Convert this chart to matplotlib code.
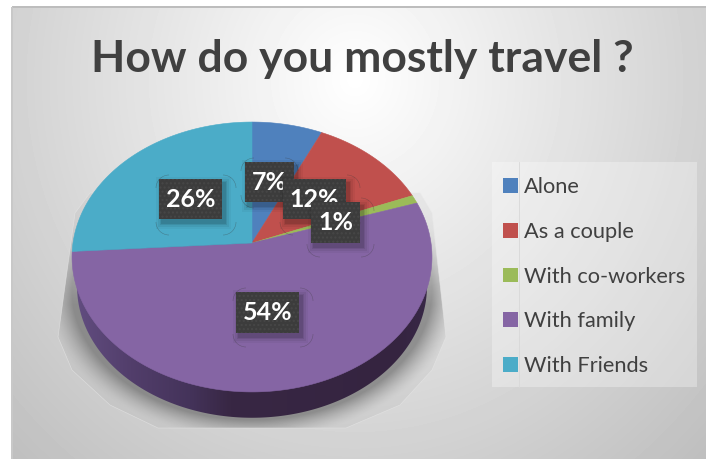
import numpy as np
import matplotlib
matplotlib.use("Agg")
import matplotlib.pyplot as plt
from matplotlib.patches import Polygon, Rectangle, Arc
from matplotlib.lines import Line2D

title = "How do you mostly travel ?"
categories = ["Alone", "As a couple", "With co-workers", "With family", "With Friends"]
values = [7, 12, 1, 54, 26]
colors = ["#4f81bd", "#c0504d", "#9bbb59", "#8565a4", "#4bacc8"]

# layout, in figure pixels (same order as the categories)
W, H = 706, 459
label_boxes = [(245, 162, 49, 40), (283, 179, 63, 40), (311, 202, 49, 41), (236, 292, 63, 41), (159, 179, 63, 40)]
callouts = [(241, 158, 57, 50), (280, 175, 80, 60), (307, 198, 67, 59), (233, 288, 80, 59), (156, 175, 80, 60)]
draw_order = [3, 4, 0, 1, 2]

CX, CY, A, B, K = 252.0, 243.0, 133.5, 179.0, 0.1036


def project(theta, scale=1.0, dy=0.0):
    x, y = np.sin(theta), np.cos(theta)
    w = 1 + K * y
    return CX + scale * B * x / w, CY + dy - scale * A * y / w


plt.rcParams["font.family"] = ["Lato", "DejaVu Sans"]
fig = plt.figure(figsize=(W / 100, H / 100), dpi=100, facecolor="white")
ax = fig.add_axes([0, 0, 1, 1])
ax.set_xlim(0, W)
ax.set_ylim(H, 0)
ax.axis("off")

# chart-area gradient
xx, yy = np.meshgrid(np.arange(12, W) + .5, np.arange(7, H) + .5)
r = np.sqrt(((xx - 355) / 345) ** 2 + ((yy - 80) / 370) ** 2)
bg = np.clip(255 - 45 * r, 185, 255)
ax.imshow(bg, cmap="gray", vmin=0, vmax=255, extent=(12, W, H, 7), aspect="auto", zorder=0, interpolation="bilinear")
ax.add_patch(Rectangle((12, 6), W - 12, 1.6, fc="#bdbdbd", ec="none", zorder=1))
ax.add_patch(Rectangle((11.4, 7), 1.2, H - 7, fc="#c8c8c8", ec="none", zorder=1))

# soft shadow under the pie, limited to a faceted outline
hull = [(90, 193), (75, 213), (58, 337), (72, 370), (110, 405), (158, 428), (346, 428), (400, 405),
        (432, 370), (446, 337), (432, 213), (420, 193)]
d = np.sqrt(((xx - 252) / 180) ** 2 + ((yy - 290) / 130) ** 2)
fall = np.clip((1.15 - d) / .15, 0, 1) ** 1.5
fade = np.clip((yy - 215) / 90, 0, 1)
sh = np.zeros(xx.shape + (4,))
sh[..., :3] = .42
sh[..., 3] = (.07 + .62 * fall * fade)
im = ax.imshow(sh, extent=(12, W, H, 7), aspect="auto", zorder=2, interpolation="bilinear")
hp = Polygon(hull, closed=True, fc="none", ec="#e8e8e8", lw=.5, alpha=.6, zorder=2.1)
ax.add_patch(hp)
im.set_clip_path(hp)

# pie side wall with horizontal gradient
ax.set_xlim(0, W)
ax.set_ylim(H, 0)
t_low = np.linspace(np.pi * 1.5, np.pi * .5, 200)
lx, ly = project(t_low, .972, 30)
tl = project(np.array([np.pi * 1.5 + .12]))
tr = project(np.array([np.pi * .5 - .12]))
wall = np.column_stack([np.r_[tl[0], lx, tr[0]], np.r_[tl[1], ly, tr[1]]])
wp = Polygon(wall, closed=True, fc="none", ec="none", zorder=3)
ax.add_patch(wp)
gx = np.linspace(60, 445, 256)
stops_x = [70, 130, 190, 230, 400, 440]
stops = np.array([[0x63, 0x4e, 0x82], [0x52, 0x3e, 0x6b], [0x44, 0x33, 0x5a], [0x38, 0x27, 0x44],
                  [0x35, 0x24, 0x40], [0x3a, 0x2a, 0x4a]]) / 255
grad = np.stack([np.interp(gx, stops_x, stops[:, i]) for i in range(3)], axis=1)[None, :, :]
gi = ax.imshow(grad, extent=(60, 445, 425, 240), aspect="auto", zorder=3, interpolation="bilinear")
gi.set_clip_path(wp)
ax.set_xlim(0, W)
ax.set_ylim(H, 0)

# pie top face
cum = np.cumsum([0] + values) / sum(values) * 2 * np.pi
for i, c in enumerate(colors):
    t = np.linspace(cum[i], cum[i + 1], max(3, int(values[i] * 6)))
    px, py = project(t)
    pts = np.column_stack([np.r_[CX, px], np.r_[CY, py]])
    ax.add_patch(Polygon(pts, closed=True, fc=c, ec=c, lw=.4, zorder=4))

# leader-shape remnants around the labels
for (x, y, w, h) in callouts:
    s = 13
    for cx, cy, a0 in [(x + s, y + s, 180), (x + w - s, y + s, 270), (x + w - s, y + h - s, 0), (x + s, y + h - s, 90)]:
        ax.add_patch(Arc((cx, cy), 2 * s, 2 * s, theta1=a0, theta2=a0 + 90, color="#3a3a3a", lw=.4, alpha=.4, zorder=5))

# data labels
plt.rcParams["hatch.linewidth"] = 1.0
for n, i in enumerate(draw_order):
    x, y, w, h = label_boxes[i]
    z = 6 + n
    for g, al in [(6, .04), (4, .06), (2, .08), (1, .10)]:
        ax.add_patch(Rectangle((x + 3 - g, y + 4 - g), w + 2 * g, h + 2 * g, fc="black", ec="none", alpha=al, zorder=z))
    ax.add_patch(Rectangle((x, y), w, h, fc="#3c3c3c", ec="none", zorder=z + .1))
    ax.add_patch(Rectangle((x, y), w, h, fc="none", ec="#474747", hatch="....", lw=0, zorder=z + .2))
    ax.text(x + w / 2, y + h / 2 + .5, f"{values[i]}%", color="white", fontsize=18, fontweight="bold",
            ha="center", va="center", zorder=z + .3)

# title
ax.text(362, 59, title, color="#404040", fontsize=32, fontweight="bold", ha="center", va="center", zorder=5)

# legend
ax.add_patch(Rectangle((492, 162), 205, 225, fc="white", ec="none", alpha=.3, zorder=4.5))
handles = [Rectangle((0, 0), 1, 1, fc=c, ec="none") for c in colors]
leg = ax.legend(handles, categories, loc="upper left", bbox_to_anchor=(492 / W, 1 - 166 / H),
                bbox_transform=fig.transFigure, fontsize=15.7, labelcolor="#404040", frameon=False,
                borderpad=.52, borderaxespad=0, handlelength=.66, handleheight=.66, handletextpad=.28,
                labelspacing=1.13)
leg.set_zorder(5)
ax.add_line(Line2D([519, 519], [162, 387], color="#d8d8d8", lw=.6, zorder=5))

fig.savefig("out.png", dpi=100, facecolor="white")
